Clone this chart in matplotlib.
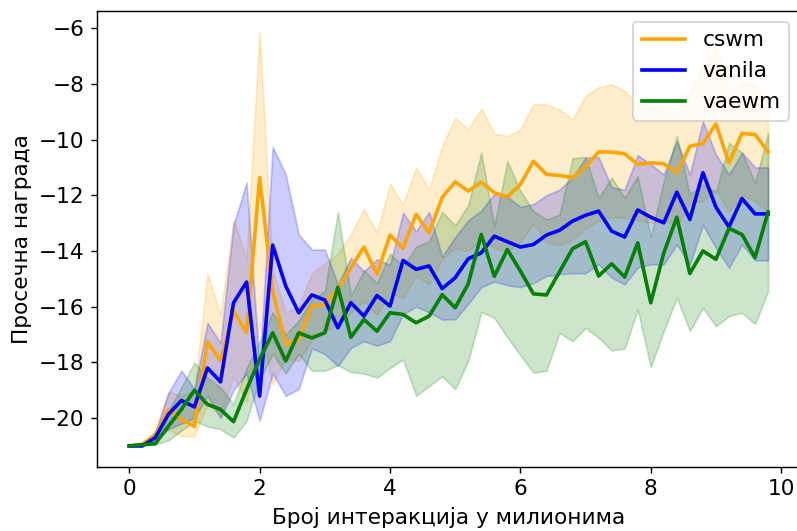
import matplotlib
matplotlib.use('Agg')
import matplotlib.pyplot as plt

# interaction counts (millions), one entry per evaluation
steps = [0.0, 0.2, 0.4, 0.6, 0.8, 1.0, 1.2, 1.4, 1.6, 1.8,
         2.0, 2.2, 2.4, 2.6, 2.8, 3.0, 3.2, 3.4, 3.6, 3.8,
         4.0, 4.2, 4.4, 4.6, 4.8, 5.0, 5.2, 5.4, 5.6, 5.8,
         6.0, 6.2, 6.4, 6.6, 6.8, 7.0, 7.2, 7.4, 7.6, 7.8,
         8.0, 8.2, 8.4, 8.6, 8.8, 9.0, 9.2, 9.4, 9.6, 9.8]

cswm_mean = [-21.0, -20.95, -20.6, -19.7, -20.05, -20.3, -17.26, -17.95, -16.16, -16.94,
             -11.37, -15.44, -17.35, -17.18, -15.98, -15.92, -15.35, -14.6, -13.86, -14.84,
             -13.43, -13.9, -12.69, -13.35, -12.08, -11.52, -11.85, -11.53, -11.91, -12.06,
             -11.61, -10.78, -11.25, -11.29, -11.37, -10.98, -10.45, -10.45, -10.51, -10.89,
             -10.84, -10.87, -11.19, -10.24, -10.15, -9.44, -10.84, -9.78, -9.82, -10.44]
cswm_hi = [-21.0, -20.9, -20.45, -19.05, -19.2, -19.0, -14.82, -16.3, -12.87, -14.27,
           -6.13, -14.7, -16.2, -16.0, -14.8, -14.45, -14.1, -13.4, -12.5, -13.35,
           -11.58, -12.35, -11.0, -11.8, -10.25, -9.22, -9.64, -8.88, -9.79, -9.88,
           -9.64, -8.74, -8.74, -8.92, -9.28, -8.44, -8.12, -8.02, -8.26, -8.74,
           -8.8, -8.9, -9.05, -8.3, -7.4, -6.6, -8.3, -7.9, -8.0, -8.5]
cswm_lo = [-21.0, -21.0, -20.85, -20.4, -20.65, -20.65, -19.5, -19.9, -18.5, -19.45,
           -16.6, -18.8, -17.85, -17.95, -17.2, -16.9, -16.6, -16.2, -15.8, -16.3,
           -15.5, -15.7, -14.9, -15.2, -14.3, -13.9, -14.0, -13.6, -13.9, -14.0,
           -13.7, -13.0, -13.7, -13.8, -13.6, -13.2, -12.9, -12.8, -12.8, -12.9,
           -13.0, -12.9, -13.1, -12.3, -12.2, -11.8, -12.6, -12.0, -12.2, -12.6]

vanila_mean = [-21.0, -21.0, -20.7, -19.87, -19.37, -19.6, -18.2, -18.7, -15.86, -15.12,
               -19.21, -13.79, -15.26, -16.22, -15.58, -15.76, -16.76, -15.86, -16.34, -15.6,
               -15.98, -14.34, -14.66, -14.54, -15.35, -14.96, -14.28, -14.07, -13.47, -13.67,
               -13.86, -13.77, -13.43, -13.26, -12.93, -12.72, -12.57, -13.29, -13.5, -12.53,
               -12.79, -12.99, -11.89, -12.87, -11.19, -12.43, -13.14, -12.12, -12.67, -12.67]
vanila_hi = [-21.0, -20.95, -20.5, -19.1, -18.3, -18.96, -16.58, -17.3, -13.05, -11.55,
             -18.2, -10.27, -11.25, -13.41, -13.95, -13.95, -15.2, -14.25, -14.73, -14.3,
             -14.5, -12.63, -13.29, -12.6, -14.2, -13.5, -12.9, -12.55, -11.96, -12.05,
             -12.42, -12.32, -12.0, -11.8, -11.37, -10.65, -10.63, -11.72, -11.8, -10.56,
             -10.89, -11.25, -10.06, -11.25, -9.34, -10.54, -11.25, -10.47, -11.0, -11.0]
vanila_lo = [-21.0, -21.0, -20.8, -20.4, -20.2, -20.0, -19.2, -20.0, -19.0, -18.4,
             -20.1, -18.4, -19.2, -18.96, -17.5, -17.7, -18.13, -17.48, -17.24, -17.4,
             -17.24, -16.27, -16.0, -16.2, -16.46, -16.45, -15.9, -15.3, -15.1, -15.23,
             -15.3, -15.15, -14.9, -14.83, -14.8, -14.8, -14.48, -14.96, -15.2, -14.6,
             -14.48, -14.48, -13.77, -14.48, -13.07, -13.89, -14.6, -13.77, -14.34, -14.34]

vaewm_mean = [-21.0, -20.95, -20.92, -20.29, -19.69, -19.0, -19.51, -19.69, -20.13, -18.97,
              -17.89, -16.94, -17.95, -16.94, -17.12, -16.94, -15.3, -17.1, -16.46, -16.88,
              -16.22, -16.28, -16.58, -16.34, -15.57, -16.04, -15.18, -13.41, -14.91, -13.95,
              -14.72, -15.54, -15.58, -14.75, -13.92, -13.67, -14.9, -14.46, -14.94, -13.71,
              -15.86, -14.07, -12.79, -14.81, -14.0, -14.3, -13.19, -13.41, -14.24, -12.6]
vaewm_hi = [-21.0, -20.95, -20.8, -19.75, -18.9, -18.0, -18.55, -18.9, -19.5, -18.2,
            -17.24, -16.2, -17.0, -16.5, -15.75, -15.44, -12.6, -15.6, -14.7, -15.15,
            -14.1, -14.55, -13.85, -13.65, -12.6, -13.08, -12.35, -10.47, -13.1, -10.78,
            -11.85, -12.57, -12.87, -12.69, -10.67, -10.63, -12.09, -11.37, -12.09, -11.31,
            -13.5, -11.5, -9.88, -11.97, -11.61, -11.9, -10.12, -10.47, -11.55, -9.76]
vaewm_lo = [-21.0, -21.0, -20.95, -20.8, -20.45, -20.1, -20.3, -20.4, -20.7, -20.1,
            -18.6, -17.7, -18.4, -17.7, -18.3, -18.3, -18.1, -18.35, -18.4, -18.55,
            -18.2, -17.9, -19.2, -18.85, -18.5, -18.96, -17.95, -16.2, -16.4, -17.1,
            -17.75, -18.37, -18.3, -16.94, -17.24, -16.76, -17.12, -17.57, -17.5, -16.1,
            -18.17, -16.88, -15.68, -16.88, -16.04, -16.7, -16.34, -16.22, -16.62, -15.44]

runs = [
    ('cswm', 'orange', cswm_mean, cswm_lo, cswm_hi),
    ('vanila', 'blue', vanila_mean, vanila_lo, vanila_hi),
    ('vaewm', 'green', vaewm_mean, vaewm_lo, vaewm_hi),
]

fig = plt.figure(figsize=(797 / 130, 531 / 130), dpi=130)
ax = fig.add_axes([0.1221, 0.1212, 0.8817, 0.8581])

for name, color, mean, lo, hi in runs:
    ax.plot(steps, mean, color=color, lw=2, label=name)
    ax.fill_between(steps, lo, hi, color=color, alpha=0.2)

ax.set_xlabel('Број интеракција у милионима', fontsize=12)
ax.set_ylabel('Просечна награда', fontsize=12)
ax.set_xticks([0, 2, 4, 6, 8, 10])
ax.set_yticks([-20, -18, -16, -14, -12, -10, -8, -6])
ax.tick_params(labelsize=12)
ax.legend(loc='upper right', fontsize=12)

fig.savefig('out.png', dpi=130)
